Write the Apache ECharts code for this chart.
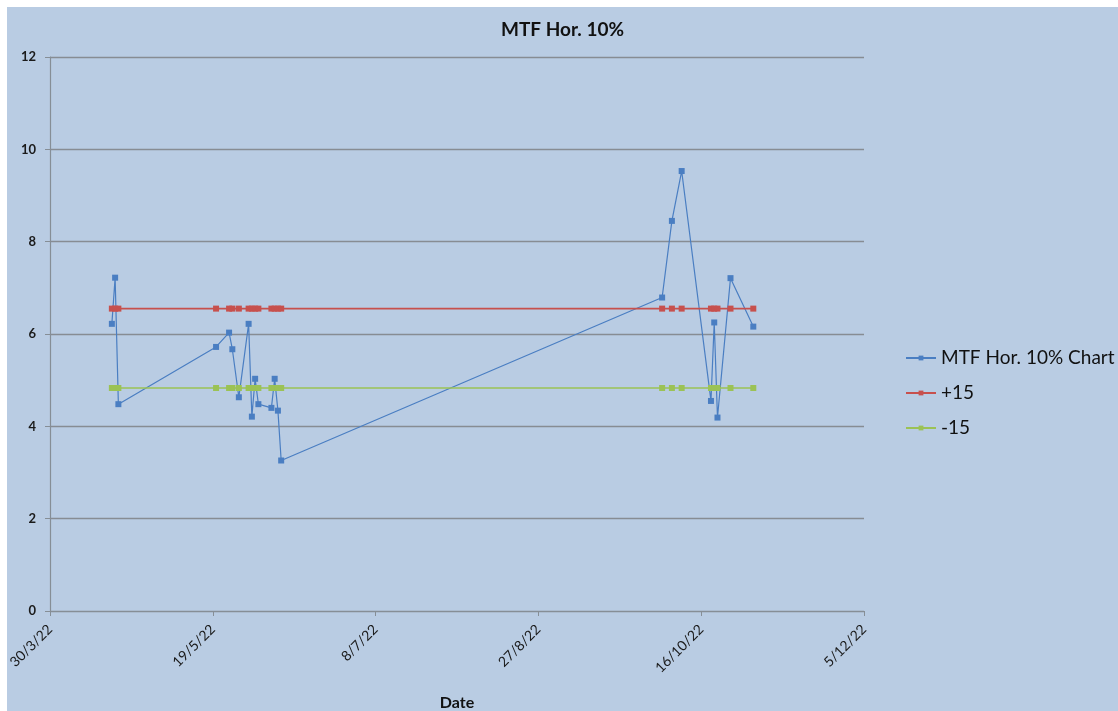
<!DOCTYPE html>
<html>
<head>
<meta charset="utf-8">
<script src="https://cdn.jsdelivr.net/npm/echarts@6/dist/echarts.min.js"></script>
<style>
  html, body { margin: 0; padding: 0; background: #ffffff; }
  #chart { position: absolute; left: 7px; top: 7px; width: 1111px; height: 704px; background: #b9cce3; }
</style>
</head>
<body>
<div id="chart"></div>
<script>
// Measurement dates
const dates = [
  '2022-04-18', '2022-04-19', '2022-04-20',
  '2022-05-20', '2022-05-24', '2022-05-25', '2022-05-27', '2022-05-30', '2022-05-31',
  '2022-06-01', '2022-06-02', '2022-06-06', '2022-06-07', '2022-06-08', '2022-06-09',
  '2022-10-04', '2022-10-07', '2022-10-10', '2022-10-19', '2022-10-20', '2022-10-21',
  '2022-10-25', '2022-11-01'
];

// MTF horizontal 10% readings
const mtfValues = [
  6.22, 7.22, 4.48,
  5.72, 6.03, 5.67, 4.63, 6.22, 4.21,
  5.03, 4.48, 4.40, 5.03, 4.34, 3.26,
  6.79, 8.45, 9.53, 4.55, 6.25, 4.19,
  7.21, 6.16
];

// Upper (+15) and lower (-15) limits
const upperLimit = [
  6.55, 6.55, 6.55, 6.55, 6.55, 6.55, 6.55, 6.55, 6.55, 6.55, 6.55, 6.55,
  6.55, 6.55, 6.55, 6.55, 6.55, 6.55, 6.55, 6.55, 6.55, 6.55, 6.55
];
const lowerLimit = [
  4.83, 4.83, 4.83, 4.83, 4.83, 4.83, 4.83, 4.83, 4.83, 4.83, 4.83, 4.83,
  4.83, 4.83, 4.83, 4.83, 4.83, 4.83, 4.83, 4.83, 4.83, 4.83, 4.83
];

const seriesNames = ['MTF Hor. 10% Chart', '+15', '-15'];
const axisStartDate = '2022-03-30';
const axisSpanDays = 250;
const tickStepDays = 50;
const yTicks = { min: 0, max: 12, step: 2 };

const DAY = 86400000;
const baseTime = Date.parse(axisStartDate);
const dayOffset = d => Math.round((Date.parse(d) - baseTime) / DAY);
const toPairs = vals => dates.map((d, i) => [dayOffset(d), vals[i]]);

function dayLabel(v) {
  const dt = new Date(baseTime + v * DAY);
  return dt.getUTCDate() + '/' + (dt.getUTCMonth() + 1) + '/' + String(dt.getUTCFullYear()).slice(2);
}

const FONT = 'Lato, "Open Sans", "Liberation Sans", sans-serif';
const AXIS_GREY = '#868e96';
const chart = echarts.init(document.getElementById('chart'));

function lineSeries(name, vals, color, width) {
  return {
    name: name,
    type: 'line',
    data: toPairs(vals),
    symbol: 'rect',
    symbolSize: 6,
    showSymbol: true,
    lineStyle: { color: color, width: width },
    itemStyle: { color: color },
    emphasis: { disabled: true },
    z: 2
  };
}

chart.setOption({
  animation: false,
  backgroundColor: 'transparent',
  textStyle: { fontFamily: FONT },
  title: {
    text: 'MTF Hor. 10%',
    left: 'center',
    top: 8,
    textStyle: { fontFamily: FONT, fontSize: 19, fontWeight: 'bold', color: '#111' }
  },
  legend: {
    orient: 'vertical',
    left: 893,
    top: 336,
    itemGap: 15,
    itemWidth: 30,
    itemHeight: 6,
    data: seriesNames,
    textStyle: { fontFamily: FONT, fontSize: 19, lineHeight: 20, color: '#111' }
  },
  grid: { left: 43, right: 254, top: 50, bottom: 100, outerBoundsMode: 'none', containLabel: false },
  xAxis: {
    type: 'value',
    min: 0,
    max: axisSpanDays,
    interval: tickStepDays,
    name: 'Date',
    nameLocation: 'middle',
    nameGap: 84,
    nameTextStyle: { fontFamily: FONT, fontSize: 16, fontWeight: 'bold', color: '#111' },
    axisLine: { show: true, lineStyle: { color: AXIS_GREY, width: 1.2 } },
    axisTick: { show: true, length: 5, lineStyle: { color: AXIS_GREY } },
    splitLine: { show: false },
    axisLabel: {
      rotate: 45,
      margin: 16,
      fontSize: 14,
      color: '#1a1a1a',
      fontFamily: FONT,
      formatter: dayLabel
    }
  },
  yAxis: {
    type: 'value',
    min: yTicks.min,
    max: yTicks.max,
    interval: yTicks.step,
    axisLine: { show: true, lineStyle: { color: AXIS_GREY, width: 1.2 } },
    axisTick: { show: true, length: 5, lineStyle: { color: AXIS_GREY } },
    splitLine: { show: true, lineStyle: { color: '#878c93', width: 1.4 } },
    axisLabel: { fontSize: 13, fontWeight: 'bold', color: '#1a1a1a', fontFamily: FONT, margin: 14 }
  },
  series: [
    lineSeries(seriesNames[0], mtfValues, '#4a7ec2', 1.2),
    lineSeries(seriesNames[1], upperLimit, '#c7504d', 1.6),
    lineSeries(seriesNames[2], lowerLimit, '#9bc255', 1.6)
  ]
});
</script>
</body>
</html>
